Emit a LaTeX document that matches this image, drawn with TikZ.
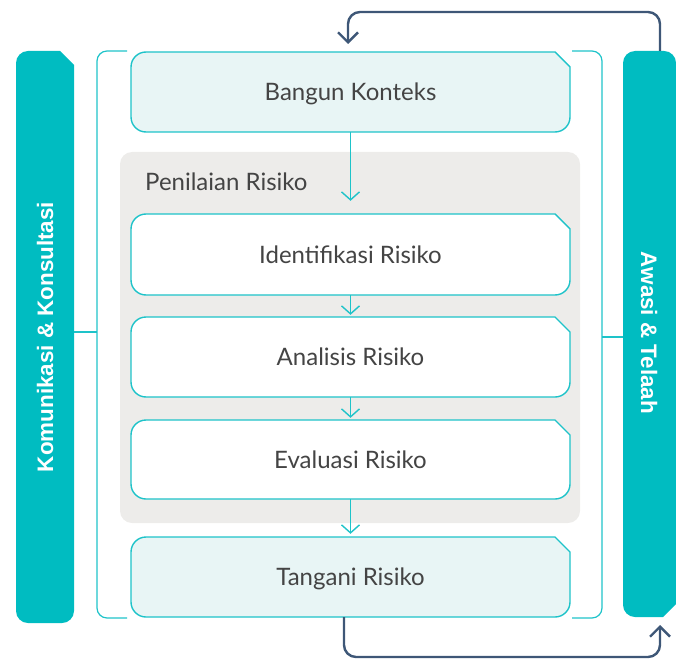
\documentclass[tikz,border=0pt]{standalone}
\usepackage{fontspec}
\setmainfont{Lato}
\newfontfamily\barfont{Liberation Sans}
\usetikzlibrary{arrows.meta}
\definecolor{tealbar}{HTML}{00BCC1}
\definecolor{tealline}{HTML}{1EC3C9}
\definecolor{lightfill}{HTML}{E8F5F5}
\definecolor{greypanel}{HTML}{EDECEA}
\definecolor{darkarrow}{HTML}{3E5777}
\definecolor{txt}{HTML}{444444}
\newcommand\chambox[6]{% x1, ytop, x2, ybot, chamfer, radius
  (#3-#5,#2) -- (#3,#2-#5) -- (#3,#4+#6) arc[start angle=0,end angle=-90,radius=#6]
  -- (#1+#6,#4) arc[start angle=270,end angle=180,radius=#6]
  -- (#1,#2-#6) arc[start angle=180,end angle=90,radius=#6] -- cycle}
\tikzset{
  boxline/.style={draw=tealline, line width=1.4pt},
  stagetext/.style={font=\fontsize{24}{28}\selectfont, text=txt, minimum width=439pt, minimum height=80pt, inner sep=0pt, text depth=0pt, text height=17pt},
  flowarrow/.style={draw=tealline, line width=1.4pt, -{Straight Barb[length=8pt,width=18pt,line width=1.4pt]}},
  backarrow/.style={draw=darkarrow, line width=2.4pt, rounded corners=12pt, -{Straight Barb[length=10pt,width=20pt,line width=2.4pt]}},
  bartext/.style={font=\barfont\bfseries\fontsize{22.4}{26}\selectfont, text=white, inner sep=0pt},
}
\begin{document}
\begin{tikzpicture}[x=1pt,y=1pt]
\useasboundingbox (0,0) rectangle (676,-660);
% side bars
\fill[tealbar] \chambox{16}{-51}{74}{-623}{14}{12};
\fill[tealbar] (623,-63) arc[start angle=180,end angle=90,radius=12] -- (664,-51)
  arc[start angle=90,end angle=0,radius=12] -- (676,-604) -- (663,-617) -- (635,-617)
  arc[start angle=270,end angle=180,radius=12] -- cycle;
\node[bartext, rotate=90] (kk) at (45,-337) {Komunikasi \& Konsultasi};
\node[bartext, rotate=-90] (at) at (649,-333) {Awasi \& Telaah};
% brackets
\draw[boxline, line width=1.2pt] (127,-51) -- (107,-51) arc[start angle=90,end angle=180,radius=10]
  -- (97,-608) arc[start angle=180,end angle=270,radius=10] -- (127,-618);
\draw[boxline, line width=1.2pt] (572,-51) -- (592,-51) arc[start angle=90,end angle=0,radius=10]
  -- (602,-608) arc[start angle=0,end angle=-90,radius=10] -- (572,-618);
\coordinate (lb) at (97,-332);
\coordinate (lbar) at (74,-332);
\coordinate (rb) at (602,-337);
\coordinate (rbar) at (623,-337);
\draw[boxline, line width=1.2pt] (lbar) -- (lb);
\draw[boxline, line width=1.2pt] (rb) -- (rbar);
% grey panel
\fill[greypanel, rounded corners=12pt] (120,-152) rectangle (580,-523);
\node[anchor=west, font=\fontsize{24}{28}\selectfont, text=txt, inner sep=0pt] (pr) at (145,-182) {Penilaian Risiko};
% boxes
\filldraw[boxline, fill=lightfill] \chambox{131}{-52}{570}{-132}{15}{15};
\filldraw[boxline, fill=white] \chambox{131}{-214}{570}{-295}{15}{15};
\filldraw[boxline, fill=white] \chambox{131}{-317}{570}{-397}{15}{15};
\filldraw[boxline, fill=white] \chambox{131}{-420}{570}{-499}{15}{15};
\filldraw[boxline, fill=lightfill] \chambox{131}{-537}{570}{-617}{15}{15};
\node[stagetext] (bk) at (350.5,-92) {Bangun Konteks};
\node[stagetext, minimum height=81pt] (id) at (350.5,-254.5) {Identifikasi Risiko};
\node[stagetext] (an) at (350.5,-357) {Analisis Risiko};
\node[stagetext, minimum height=79pt] (ev) at (350.5,-459.5) {Evaluasi Risiko};
\node[stagetext] (tr) at (350.5,-577) {Tangani Risiko};
% flow arrows
\draw[flowarrow, shorten >=13pt] (bk.south) -- (id.north);
\draw[flowarrow, shorten >=2pt] (id.south) -- (an.north);
\draw[flowarrow, shorten >=2pt] (an.south) -- (ev.north);
\draw[flowarrow, shorten >=3pt] (ev.south) -- (tr.north);
% feedback arrows
\coordinate (bartop) at (660,-51);
\coordinate (barbot) at (660,-617);
\draw[backarrow, shorten >=8pt] (bartop) -- (660,-12) -- (348,-12) -- (348,-52);
\draw[backarrow, shorten >=8pt] (344,-617) -- (344,-657) -- (660,-657) -- (barbot);
\end{tikzpicture}
\end{document}
